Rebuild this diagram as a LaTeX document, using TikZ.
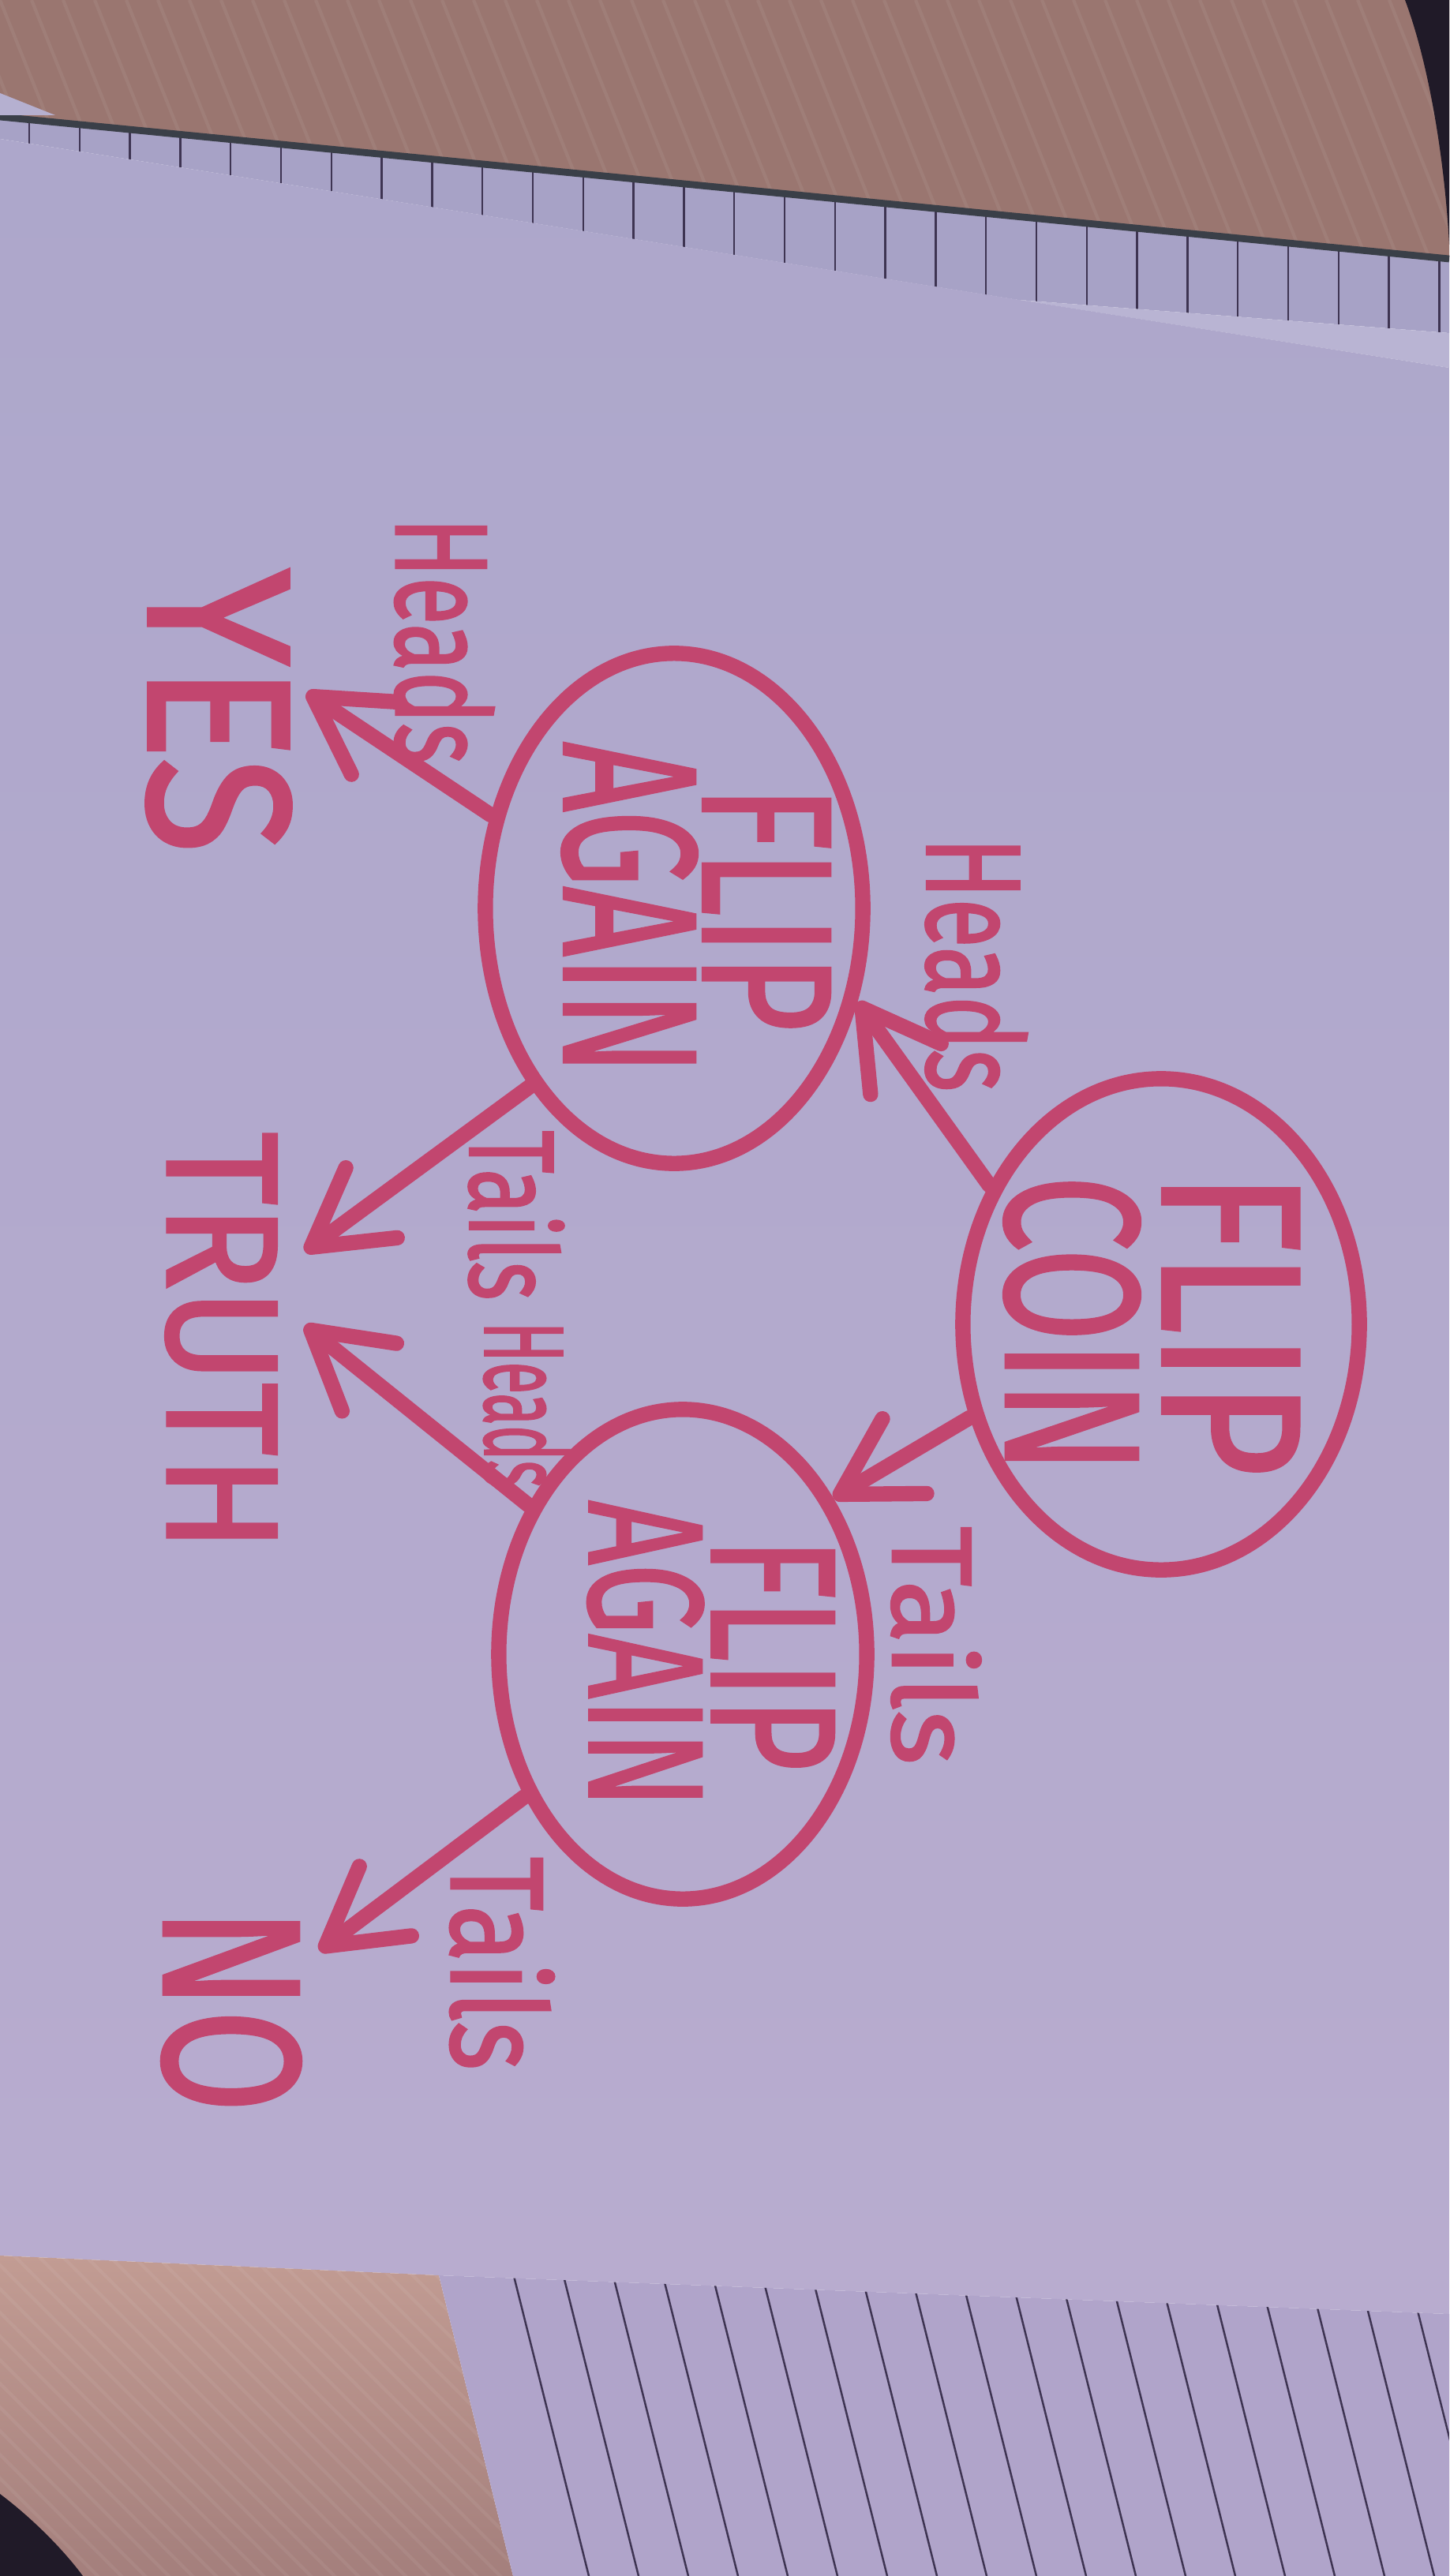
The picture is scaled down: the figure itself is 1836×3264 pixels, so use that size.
\documentclass[tikz,border=0pt]{standalone}
\usepackage{fontspec}
\setmainfont{Fira Sans}
\newfontfamily\markerfont{Fira Sans}[FakeBold=1.8]
\usepackage{graphicx}
\usetikzlibrary{shapes.geometric,arrows.meta}

\definecolor{ink}{HTML}{C2466F}
\definecolor{woodA}{HTML}{9A7670}
\definecolor{woodB}{HTML}{C29C93}
\definecolor{woodC}{HTML}{A47F7C}
\definecolor{paperT}{HTML}{ADA7CB}
\definecolor{paperM}{HTML}{CAC4E2}
\definecolor{paperB}{HTML}{B8ACCF}
\definecolor{gridpaper}{HTML}{A7A2C6}
\definecolor{linedpaper}{HTML}{B0A4CA}
\definecolor{rulecol}{HTML}{3E3452}
\definecolor{shadowcol}{HTML}{201A28}
\definecolor{edgecol}{HTML}{3A3F48}

\newcommand\hw[3]{\resizebox{#1}{#2}{\markerfont #3}}
\newcommand\twolines[4]{\raisebox{#4}[0pt][0pt]{\makebox[0pt]{\vbox{\offinterlineskip\halign{\hfil##\hfil\cr#1\cr\noalign{\kern#3}#2\cr}}}}}

\begin{document}
\begin{tikzpicture}[x=0.01cm,y=-0.01cm,
  bubble/.style={ellipse, draw=ink, line width=5.5pt, text=ink, inner sep=0pt, rotate=-90},
  txt/.style={text=ink, inner sep=0pt, outer sep=0pt, rotate=-90},
  arr/.style={draw=ink, line width=5.5pt, line cap=round, -{Straight Barb[round,length=9.5mm,width=11mm]}},
  grain/.style={white, opacity=0.06, line width=1.2pt}]
\useasboundingbox (0,0) rectangle (1836,3264);

% ---- top wood ----
\fill[woodA] (0,0) -- (1836,0) -- (1836,330) -- (0,150) -- cycle;
\begin{scope}
  \clip (0,0) -- (1836,0) -- (1836,330) -- (0,150) -- cycle;
  \foreach \i in {-400,-360,...,1900} \draw[grain] (\i,0) -- ++(160,400);
\end{scope}
\fill[shadowcol] (1780,0) .. controls (1810,80) and (1830,200) .. (1836,310) -- (1836,0) -- cycle;

% ---- grid paper strip ----
\fill[gridpaper] (0,148) -- (1836,328) -- (1836,422) -- (1290,380) -- (0,176) -- cycle;
\begin{scope}
  \clip (0,148) -- (1836,328) -- (1836,422) -- (1290,380) -- (0,176) -- cycle;
  \foreach \k in {0,...,28} \draw[rulecol, line width=0.7pt] ({37+63.8*\k},100) -- ({37+63.8*\k},500);
\end{scope}
\draw[edgecol, line width=2.5pt] (0,148) -- (1836,328);
\fill[paperT!85!white] (1290,380) -- (1836,422) -- (1836,466) -- cycle;
\fill[paperT!90!white] (0,118) -- (70,146) -- (0,146) -- cycle;

% ---- main sheet ----
\shade[top color=paperT, middle color=paperM, bottom color=paperB]
  (0,176) -- (1836,466) -- (1836,2932) -- (556,2883) -- (0,2858) -- cycle;

% ---- bottom wood ----
\shade[top color=woodB, bottom color=woodC] (0,2858) -- (556,2883) -- (650,3264) -- (0,3264) -- cycle;
\begin{scope}
  \clip (0,2858) -- (556,2883) -- (650,3264) -- (0,3264) -- cycle;
  \foreach \i in {-500,-470,...,700} \draw[grain] (\i,2820) -- ++(480,480);
\end{scope}
\fill[shadowcol] (0,3160) .. controls (40,3190) and (80,3230) .. (105,3264) -- (0,3264) -- cycle;

% ---- lined paper ----
\fill[linedpaper] (556,2883) -- (1836,2932) -- (1836,3264) -- (650,3264) -- cycle;
\begin{scope}
  \clip (556,2883) -- (1836,2932) -- (1836,3264) -- (650,3264) -- cycle;
  \foreach \k in {0,...,20} \draw[rulecol, line width=0.7pt] ({645+63*\k},2860) -- ++(101,404);
\end{scope}

% ---- diagram ----
\node[bubble, minimum width=6.22cm, minimum height=5.02cm] (coin) at (1471,1678)
  {\twolines{\hw{3.85cm}{1.72cm}{FLIP}}{\hw{3.77cm}{1.69cm}{COIN}}{0.29cm}{-1.96cm}};
\node[bubble, minimum width=6.46cm, minimum height=4.78cm] (fa1) at (854,1151)
  {\twolines{\hw{3.11cm}{1.60cm}{FLIP}}{\hw{4.21cm}{1.68cm}{AGAIN}}{0.08cm}{-1.39cm}};
\node[bubble, minimum width=6.20cm, minimum height=4.66cm] (fa2) at (865,2096)
  {\twolines{\hw{2.95cm}{1.54cm}{FLIP}}{\hw{3.89cm}{1.44cm}{AGAIN}}{0.11cm}{-1.18cm}};

\node[txt, inner ysep=0.2cm] (yes) at (277,901) {\hw{3.60cm}{1.80cm}{YES}};
\node[txt, inner ysep=0.36cm] (truth) at (280,1700) {\hw{5.31cm}{1.38cm}{TRUTH}};
\node[txt, inner ysep=0.235cm] (no) at (293,2547) {\hw{2.60cm}{1.73cm}{NO}};

\node[txt] (l1) at (1237,1222) {\hw{3.22cm}{1.27cm}{Heads}};
\node[txt] (l2) at (1186,2085) {\hw{3.02cm}{1.12cm}{Tails}};
\node[txt] (l3) at (563,812) {\hw{3.12cm}{1.24cm}{Heads}};
\node[txt] (l4) at (654,1540) {\hw{2.15cm}{1.19cm}{Tails}};
\node[txt] (l5) at (667,1780) {\hw{2.10cm}{1.07cm}{Heads}};
\node[txt] (l6) at (636,2488) {\hw{2.70cm}{1.30cm}{Tails}};

\draw[arr] (coin.231) -- (fa1.63);
\draw[arr] (coin.296) -- (fa2.136);
\draw[arr] (fa1.243) -- (yes.102);
\draw[arr] (fa1.321) -- (truth.137);
\draw[arr] (fa2.226) -- (truth.101);
\draw[arr] (fa2.312) -- (no.124);
\end{tikzpicture}
\end{document}
